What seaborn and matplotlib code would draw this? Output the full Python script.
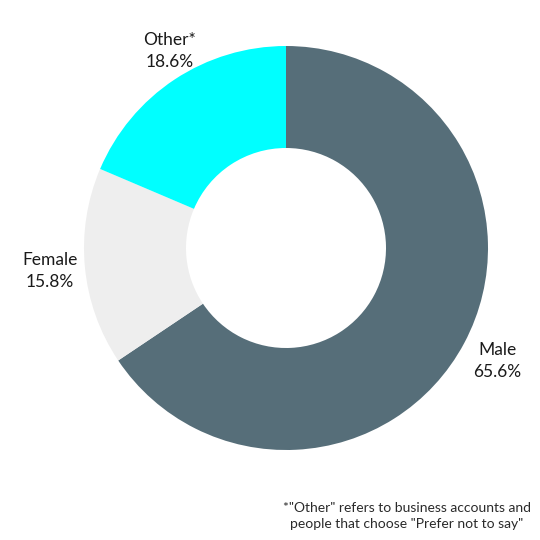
import matplotlib
matplotlib.use("Agg")
import matplotlib.pyplot as plt
import seaborn as sns

categories = ["Male", "Female", "Other*"]
shares = [65.6, 15.8, 18.6]
colors = ["#566e79", "#eeeeee", "#00ffff"]

sns.set_theme(style="white")
plt.rcParams["font.family"] = ["Lato", "DejaVu Sans"]

fig = plt.figure(figsize=(5.4, 5.4), dpi=100)
ax = fig.add_axes([0, 0, 1, 1])

# pie in pixel-like coords (y up)
ax.pie(shares, colors=colors, startangle=90, counterclock=False,
       center=(286, 292), radius=202,
       wedgeprops=dict(width=102, linewidth=0))
ax.set_xlim(0, 540)
ax.set_ylim(0, 540)
ax.set_aspect("equal")
ax.axis("off")

label_pos = [(497, 179), (50, 269), (170, 489)]
for (x, y), name, val in zip(label_pos, categories, shares):
    ax.text(x, y, f"{name}\n{val:.1f}%", ha="center", va="center",
            fontsize=12.5, color="#1a1a1a", linespacing=1.45)

ax.text(407, 24, '*"Other" refers to business accounts and\npeople that choose "Prefer not to say"',
        ha="center", va="center", fontsize=10, color="#2a2a2a", linespacing=1.4)

fig.savefig("out.png", dpi=100)
